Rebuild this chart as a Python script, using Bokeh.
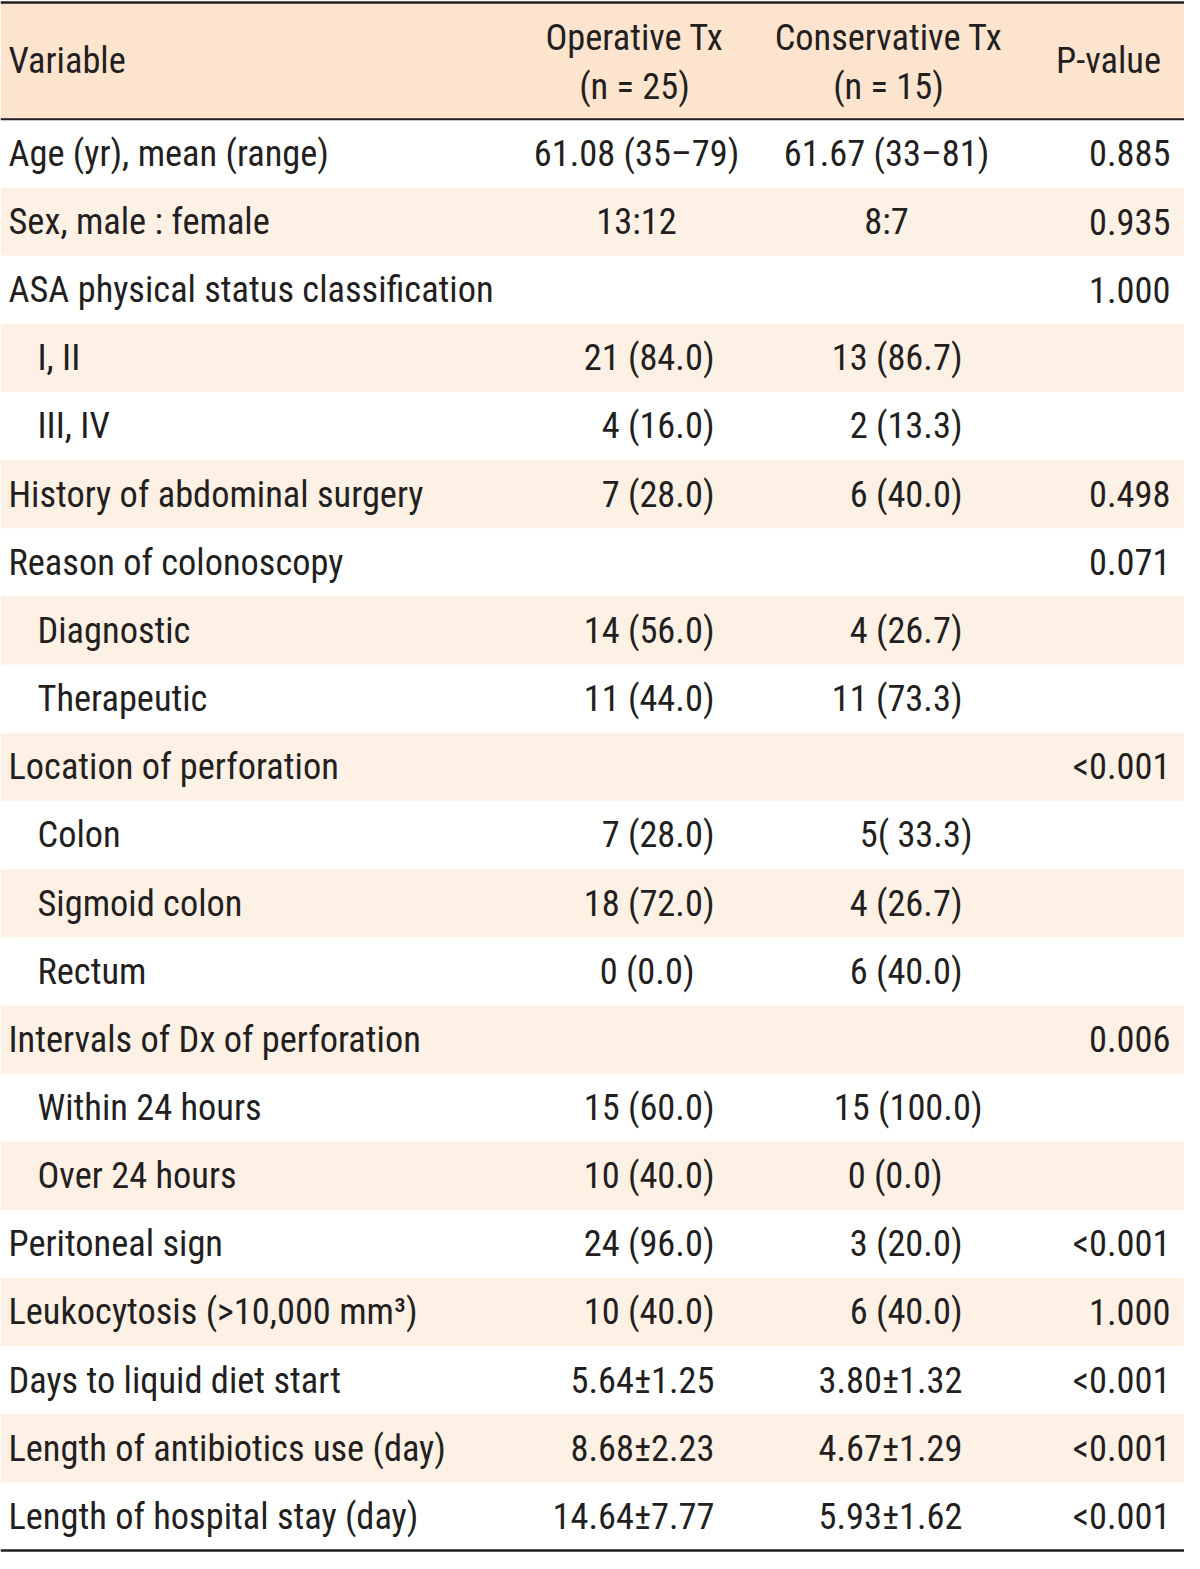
from bokeh.plotting import figure
from bokeh.models import Range1d
from bokeh.core.properties import value
from bokeh.embed import file_html
from bokeh.resources import INLINE

# ---- data ----
header_variable = "Variable"
header_op = ["Operative Tx", "(n = 25)"]
header_cons = ["Conservative Tx", "(n = 15)"]
header_p = "P-value"

labels = [
    "Age (yr), mean (range)", "Sex, male : female", "ASA physical status classification",
    "I, II", "III, IV", "History of abdominal surgery", "Reason of colonoscopy",
    "Diagnostic", "Therapeutic", "Location of perforation", "Colon", "Sigmoid colon",
    "Rectum", "Intervals of Dx of perforation", "Within 24 hours", "Over 24 hours",
    "Peritoneal sign", "Leukocytosis (>10,000 mm³)", "Days to liquid diet start",
    "Length of antibiotics use (day)", "Length of hospital stay (day)",
]
indented = [0, 0, 0, 1, 1, 0, 0, 1, 1, 0, 1, 1, 1, 0, 1, 1, 0, 0, 0, 0, 0]
operative = [
    "61.08 (35–79)", "13:12", "", "21 (84.0)", "4 (16.0)", "7 (28.0)", "",
    "14 (56.0)", "11 (44.0)", "", "7 (28.0)", "18 (72.0)", "0 (0.0)", "",
    "15 (60.0)", "10 (40.0)", "24 (96.0)", "10 (40.0)", "5.64±1.25", "8.68±2.23",
    "14.64±7.77",
]
conservative = [
    "61.67 (33–81)", "8:7", "", "13 (86.7)", "2 (13.3)", "6 (40.0)", "",
    "4 (26.7)", "11 (73.3)", "", "5( 33.3)", "4 (26.7)", "6 (40.0)", "",
    "15 (100.0)", "0 (0.0)", "3 (20.0)", "6 (40.0)", "3.80±1.32", "4.67±1.29",
    "5.93±1.62",
]
pvalues = [
    "0.885", "0.935", "1.000", "", "", "0.498", "0.071", "", "", "<0.001", "", "",
    "", "0.006", "", "", "<0.001", "1.000", "<0.001", "<0.001", "<0.001",
]

# ---- layout (reference pixel space) ----
W, H = 1184, 1569
HEAD_TOP, HEAD_BOT = 2, 120
ROW_H = (1566 - HEAD_BOT) / len(labels)
FONT = value("Roboto Condensed")
FS = "36.4px"
TXT = "#231f20"
HEAD_BG = "#fde4cf"
ROW_BG = "#fdf0e5"

n = len(labels)
op_x, op_al, cons_x, cons_al = [], [], [], []
for i in range(n):
    if i in (0, 1):
        op_x.append(636); op_al.append("center")
        cons_x.append(886); cons_al.append("center")
        continue
    op_x.append(694 if i == 12 else 714); op_al.append("right")
    cons_x.append({10: 972, 14: 982, 15: 942}.get(i, 962)); cons_al.append("right")

p = figure(width=1184, height=1553, x_range=Range1d(0, W), y_range=Range1d(H, 0),
           output_backend="svg", toolbar_location=None, min_border=0)
p.axis.visible = False
p.grid.visible = False
p.outline_line_color = None
p.background_fill_color = "white"
p.border_fill_color = "white"

# header background
p.quad(left=0, right=W, top=HEAD_TOP, bottom=HEAD_BOT, fill_color=HEAD_BG, line_color=None)

# shaded rows
rows = list(range(n))
shaded = [i for i in rows if i % 2 == 1]
p.quad(left=[0] * len(shaded), right=[W] * len(shaded),
       top=[HEAD_BOT + i * ROW_H for i in shaded],
       bottom=[HEAD_BOT + (i + 1) * ROW_H for i in shaded],
       fill_color=ROW_BG, line_color=None)

# rules
p.segment(x0=[0, 0, 0], x1=[W, W, W], y0=[HEAD_TOP, HEAD_BOT, 1566], y1=[HEAD_TOP, HEAD_BOT, 1566],
          line_color=TXT, line_width=[2.5, 2, 2.5])

def txt(x, y, t, align):
    p.text(x=x, y=y, text=t, text_font=FONT, text_font_size=FS, text_color=TXT,
           text_align=align, text_baseline="middle")

# header text
txt([8], [61], [header_variable], "left")
txt([634, 634], [37, 87], header_op, "center")
txt([888, 888], [37, 87], header_cons, "center")
txt([1108], [61], [header_p], "center")

ys = [HEAD_BOT + (i + 0.5) * ROW_H for i in rows]
lab_x = [37 if indented[i] else 8 for i in rows]
txt(lab_x, ys, labels, "left")
for al in ("center", "right"):
    idx = [i for i in rows if op_al[i] == al and operative[i]]
    txt([op_x[i] for i in idx], [ys[i] for i in idx], [operative[i] for i in idx], al)
    idx = [i for i in rows if cons_al[i] == al and conservative[i]]
    txt([cons_x[i] for i in idx], [ys[i] for i in idx], [conservative[i] for i in idx], al)
idx = [i for i in rows if pvalues[i]]
txt([1170] * len(idx), [ys[i] for i in idx], [pvalues[i] for i in idx], "right")

open("out.html", "w").write(file_html(p, INLINE))
